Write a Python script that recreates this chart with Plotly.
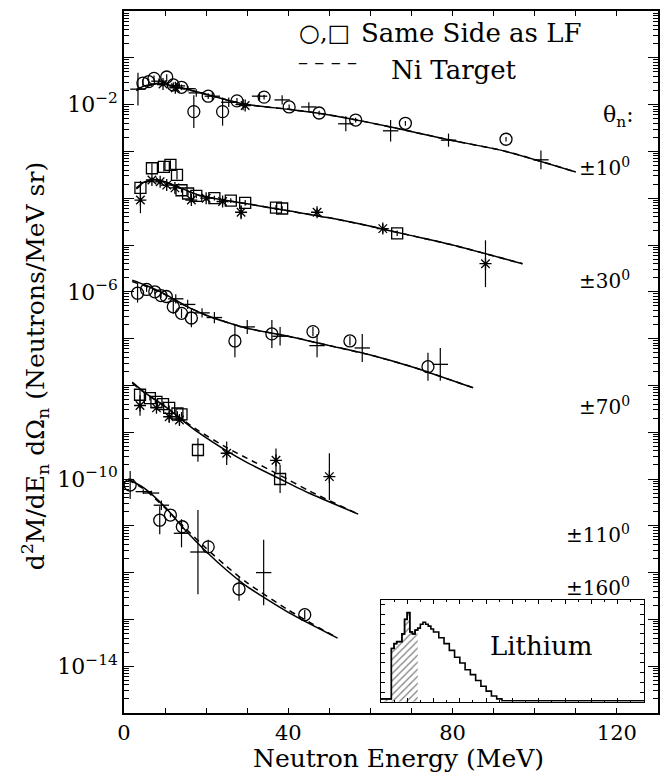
import plotly.graph_objects as go

# ---------------- data (log10 of scaled yields) ----------------
# theta = 10 deg
c10_e = [4.6, 6.0, 7.3, 10.4, 12.0, 14.0, 17.0, 20.5, 24.0, 27.5, 34.1, 40.2, 47.5, 56.4, 68.5, 93.0]
c10_l = [-1.54, -1.51, -1.44, -1.41, -1.58, -1.63, -2.15, -1.82, -2.15, -1.92, -1.84, -2.05, -2.18, -2.33, -2.40, -2.74]
c10_err = [0.08, 0.06, 0.06, 0.06, 0.06, 0.06, 0.35, 0.06, 0.3, 0.06, 0.05, 0.05, 0.05, 0.05, 0.05, 0.05]
p10_e = [3.4, 8.5, 13.0, 15.6, 17.6, 21.5, 25.5, 29.0, 33.0, 38.5, 45.0, 54.0, 64.9, 79.0, 101.5]
p10_l = [-1.67, -1.50, -1.60, -1.66, -1.75, -1.82, -1.95, -2.00, -1.82, -1.90, -2.05, -2.41, -2.56, -2.76, -3.18]
p10_err = [0.35, 0.06, 0.06, 0.06, 0.08, 0.08, 0.10, 0.12, 0.08, 0.10, 0.10, 0.16, 0.23, 0.14, 0.20]
s10_e = [9.5, 12.5, 29.5]
s10_l = [-1.56, -1.64, -2.02]
l10_e = [3, 5, 8, 12, 15, 20, 25, 30, 40, 47, 55, 65, 79, 93, 110]
l10_v = [-1.68, -1.60, -1.55, -1.60, -1.66, -1.78, -1.90, -2.00, -2.10, -2.18, -2.30, -2.48, -2.75, -3.00, -3.44]
d10_v = [-1.70, -1.62, -1.57, -1.61, -1.67, -1.78, -1.90, -2.00, -2.10, -2.18, -2.30, -2.48, -2.75, -3.00, -3.44]

# theta = 30 deg
q30_e = [4.0, 6.8, 9.7, 11.3, 12.9, 14.0, 15.6, 17.6, 22.0, 26.0, 29.5, 37.0, 38.5, 66.5]
q30_l = [-3.78, -3.36, -3.33, -3.29, -3.50, -3.83, -3.90, -3.95, -4.00, -4.05, -4.10, -4.20, -4.22, -4.75]
q30_err = [0.15, 0.1, 0.1, 0.1, 0.1, 0.05, 0.05, 0.05, 0.05, 0.05, 0.06, 0.05, 0.05, 0.06]
s30_e = [4.0, 6.8, 8.8, 10.4, 12.4, 16.4, 20.0, 24.0, 28.5, 47.0, 63.0, 88.0]
s30_l = [-4.04, -3.61, -3.65, -3.72, -3.78, -4.04, -4.00, -4.07, -4.30, -4.30, -4.65, -5.40]
s30_err = [0.28, 0.05, 0.05, 0.05, 0.05, 0.06, 0.06, 0.08, 0.15, 0.08, 0.10, 0.50]
l30_e = [3, 5, 7, 10, 13, 18, 25, 30, 40, 50, 60, 70, 80, 97]
l30_v = [-3.78, -3.65, -3.60, -3.65, -3.75, -3.93, -4.05, -4.12, -4.27, -4.42, -4.60, -4.80, -5.00, -5.40]
d30_v = [-3.80, -3.67, -3.62, -3.66, -3.76, -3.93, -4.05, -4.12, -4.27, -4.42, -4.60, -4.80, -5.00, -5.40]

# theta = 70 deg
c70_e = [3.3, 5.5, 7.5, 9.0, 10.3, 12.0, 14.0, 16.4, 27.0, 36.0, 46.0, 55.0, 74.0]
c70_l = [-6.03, -5.95, -6.00, -6.08, -6.10, -6.32, -6.46, -6.56, -7.05, -6.90, -6.85, -7.05, -7.60]
c70_err = [0.2, 0.05, 0.05, 0.05, 0.05, 0.15, 0.1, 0.2, 0.35, 0.3, 0.1, 0.1, 0.3]
p70_e = [12.6, 15.5, 19.0, 22.0, 30.0, 38.0, 47.0, 58.0, 77.0]
p70_l = [-6.15, -6.27, -6.45, -6.55, -6.75, -6.95, -7.15, -7.20, -7.55]
p70_err = [0.1, 0.1, 0.1, 0.12, 0.15, 0.2, 0.25, 0.3, 0.35]
l70_e = [2, 5, 10, 15, 20, 25, 30, 40, 50, 60, 70, 85]
l70_v = [-5.75, -5.85, -6.05, -6.30, -6.50, -6.65, -6.78, -6.95, -7.15, -7.35, -7.60, -8.05]
d70_v = [-5.78, -5.87, -6.06, -6.30, -6.50, -6.65, -6.78, -6.95, -7.15, -7.35, -7.60, -8.05]

# theta = 110 deg
q110_e = [3.9, 6.3, 7.9, 9.5, 11.0, 13.0, 14.0, 18.0, 38.0]
q110_l = [-8.20, -8.27, -8.35, -8.40, -8.48, -8.60, -8.62, -9.38, -10.00]
q110_err = [0.1, 0.05, 0.05, 0.05, 0.05, 0.05, 0.05, 0.25, 0.3]
s110_e = [3.9, 7.9, 11.0, 13.5, 25.0, 37.0, 50.0]
s110_l = [-8.43, -8.48, -8.67, -8.74, -9.45, -9.60, -9.95]
s110_err = [0.22, 0.05, 0.12, 0.1, 0.25, 0.25, 0.5]
l110_e = [2, 5, 10, 15, 18, 25, 30, 38, 45, 57]
l110_v = [-7.93, -8.15, -8.45, -8.80, -9.00, -9.40, -9.65, -10.00, -10.30, -10.75]
d110_v = [-7.95, -8.16, -8.45, -8.78, -8.96, -9.33, -9.56, -9.92, -10.25, -10.75]

# theta = 160 deg
c160_e = [1.5, 8.7, 11.3, 14.2, 20.5, 28.0, 44.0]
c160_l = [-10.13, -10.88, -10.77, -11.02, -11.45, -12.35, -12.90]
c160_err = [0.3, 0.3, 0.05, 0.05, 0.15, 0.25, 0.1]
p160_e = [4.7, 6.7, 9.1, 14.0, 18.0, 34.0]
p160_l = [-10.27, -10.30, -10.56, -11.16, -11.56, -12.00]
p160_err = [0.05, 0.05, 0.1, 0.3, 0.9, 0.7]
l160_e = [1, 5, 10, 15, 20, 25, 30, 40, 52]
l160_v = [-10.00, -10.20, -10.60, -11.10, -11.55, -11.95, -12.30, -12.85, -13.40]
d160_v = [-10.02, -10.22, -10.62, -11.06, -11.48, -11.87, -12.22, -12.80, -13.40]

# Lithium inset spectrum (arbitrary units)
li_x = [0, 3, 4, 5, 6, 7, 8, 9, 10, 11, 12, 13, 14, 15, 16, 17, 18, 19, 20, 22, 24, 26,
        28, 30, 32, 34, 36, 38, 40, 42, 44, 46, 100]
li_y = [0.03, 0.03, 0.55, 0.60, 0.62, 0.62, 0.70, 0.85, 0.92, 0.72, 0.70, 0.74, 0.76, 0.80,
        0.82, 0.80, 0.78, 0.75, 0.72, 0.66, 0.60, 0.53, 0.46, 0.40, 0.33, 0.28, 0.22, 0.16,
        0.11, 0.06, 0.03, 0.01, 0.01]
li_hatch_end = 14

angle_labels = ["±10<sup>0</sup>", "±30<sup>0</sup>", "±70<sup>0</sup>", "±110<sup>0</sup>", "±160<sup>0</sup>"]
angle_label_pos = [-3.33, -5.75, -8.45, -11.18, -12.30]

x_ticks = list(range(0, 131, 10))
x_labels = ["0", "40", "80", "120"]
y_major = [-2, -6, -10, -14]

# ---------------- figure ----------------
FONT = "DejaVu Serif"
fig = go.Figure()


def pw(vals):
    return [10 ** v for v in vals]


def add_pts(e, l, err, symbol, size=11):
    v = pw(l)
    up = [10 ** (a + b) - 10 ** a for a, b in zip(l, err)]
    dn = [10 ** a - 10 ** (a - b) for a, b in zip(l, err)]
    fig.add_trace(go.Scatter(
        x=e, y=v, mode="markers",
        marker=dict(symbol=symbol, size=size, color="black", line=dict(color="black", width=1.3)),
        error_y=dict(type="data", symmetric=False, array=up, arrayminus=dn,
                     color="black", thickness=1.2, width=0),
        showlegend=False, hoverinfo="skip"))


def add_line(e, l, dash="solid"):
    fig.add_trace(go.Scatter(x=e, y=pw(l), mode="lines", line=dict(color="black", width=1.5, dash=dash,
                                                                     shape="spline", smoothing=0.6),
                             showlegend=False, hoverinfo="skip"))


for e, v, d in [(l10_e, l10_v, d10_v), (l30_e, l30_v, d30_v), (l70_e, l70_v, d70_v),
                (l110_e, l110_v, d110_v), (l160_e, l160_v, d160_v)]:
    add_line(e, v)
    add_line(e, d, dash="6px,5px")

add_pts(c10_e, c10_l, c10_err, "circle-open", 12)
add_pts(p10_e, p10_l, p10_err, "line-ew", 11)
add_pts(s10_e, s10_l, [0.05] * len(s10_e), "asterisk-open", 10)
add_pts(q30_e, q30_l, q30_err, "square-open", 11)
add_pts(s30_e, s30_l, s30_err, "asterisk-open", 10)
add_pts(c70_e, c70_l, c70_err, "circle-open", 12)
add_pts(p70_e, p70_l, p70_err, "line-ew", 11)
add_pts(q110_e, q110_l, q110_err, "square-open", 11)
add_pts(s110_e, s110_l, s110_err, "asterisk-open", 10)
add_pts(c160_e, c160_l, c160_err, "circle-open", 12)
add_pts(p160_e, p160_l, p160_err, "line-ew", 11)

# inset
hx = [x for x in li_x if x <= li_hatch_end]
hy = li_y[:len(hx)]
fig.add_trace(go.Scatter(x=hx, y=hy, xaxis="x2", yaxis="y2", mode="lines",
                         line=dict(color="black", width=1.3, shape="hv"), fill="tozeroy",
                         fillcolor="white",
                         fillpattern=dict(shape="/", fgcolor="black", bgcolor="white", size=5, solidity=0.25),
                         showlegend=False, hoverinfo="skip"))
fig.add_trace(go.Scatter(x=li_x, y=li_y, xaxis="x2", yaxis="y2", mode="lines",
                         line=dict(color="black", width=1.6, shape="hv"),
                         showlegend=False, hoverinfo="skip"))

minor_y = [m * 10 ** k for k in range(-16, 1) for m in range(2, 10)]
fig.update_layout(
    width=664, height=773,
    margin=dict(l=124, r=4, t=11, b=60),
    paper_bgcolor="white", plot_bgcolor="white",
    font=dict(family=FONT, size=20, color="black"),
    xaxis=dict(range=[0, 130], showgrid=False, zeroline=False, showline=True, linecolor="black",
               linewidth=1.5, mirror="allticks", ticks="inside", ticklen=5, tickwidth=1.2,
               tickcolor="black", tickmode="array", tickvals=x_ticks,
               ticktext=[str(t) if str(t) in x_labels else "" for t in x_ticks],
               tickfont=dict(family=FONT, size=21)),
    yaxis=dict(type="log", range=[-15, 0], showgrid=False, zeroline=False, showline=True,
               linecolor="black", linewidth=1.5, mirror="allticks", ticks="inside", ticklen=10,
               tickwidth=1.3, tickcolor="black", tickmode="array",
               tickvals=[10 ** k for k in range(-15, 1)],
               ticktext=[("10<sup>−%d</sup>" % -k) if k in y_major else "" for k in range(-15, 1)],
               tickfont=dict(family=FONT, size=22),
               minor=dict(ticks="inside", ticklen=5, tickwidth=1, tickcolor="black", tickvals=minor_y)),
    xaxis2=dict(domain=[0.481, 0.974], anchor="y2", range=[0, 100], showgrid=False, zeroline=False,
                showline=True, linecolor="black", linewidth=1.3, mirror="allticks", ticks="inside",
                ticklen=4, tickcolor="black", dtick=10, showticklabels=False,
                minor=dict(ticks="inside", ticklen=2, dtick=5, tickcolor="black")),
    yaxis2=dict(domain=[0.016, 0.161], anchor="x2", range=[0, 1.05], showgrid=False, zeroline=False,
                showline=True, linecolor="black", linewidth=1.3, mirror="allticks", ticks="inside",
                ticklen=4, tickcolor="black", dtick=0.1, showticklabels=False),
)

# text placed in pixel terms of the 664x773 page (converted to paper coordinates)
texts = [
    (298, 33, "○,□", "left", 24, 0),
    (360, 33, "Same Side as LF", "left", 26, 0),
    (297, 62, "– – – –", "left", 20, 0),
    (390, 70, "Ni Target", "left", 26, 0),
    (603, 117, "θ<sub>n</sub>:", "left", 22, 0),
    (400, 758, "Neutron Energy (MeV)", "center", 25, 0),
    (35, 366, "d<sup>2</sup>M/dE<sub>n</sub> dΩ<sub>n</sub> (Neutrons/MeV sr)", "center", 25, -90),
]
ann = []
for px, py, t, xa, fs, ang in texts:
    ann.append(dict(x=(px - 124) / 536.0, y=(713 - py) / 702.0, xref="paper", yref="paper",
                    text=t, showarrow=False, xanchor=xa, yanchor="middle", textangle=ang,
                    font=dict(family=FONT, size=fs, color="black")))
for lab, pos in zip(angle_labels, angle_label_pos):
    ann.append(dict(x=1.0, xref="paper", xanchor="right", xshift=-26, y=pos, yref="y", yanchor="middle",
                    text=lab, showarrow=False, font=dict(family=FONT, size=20, color="black")))
ann.append(dict(x=61, y=0.58, xref="x2", yref="y2", text="Lithium", showarrow=False,
                font=dict(family=FONT, size=26, color="black")))
fig.update_layout(annotations=ann)

fig.write_html("out.html")
